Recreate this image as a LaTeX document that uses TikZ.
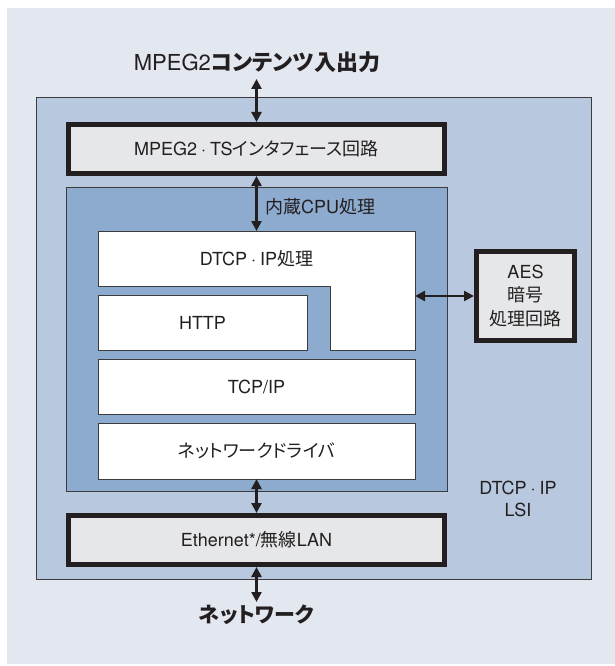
\documentclass[tikz,border=0pt]{standalone}
\usepackage{fontspec}
\setmainfont{TeX Gyre Heros}
\newfontfamily\jp[RawFeature={+palt}]{Noto Sans CJK JP}
\usetikzlibrary{arrows.meta}
\definecolor{bgc}{HTML}{E2E7F0}
\definecolor{lsic}{HTML}{B7C8DF}
\definecolor{cpuc}{HTML}{8DAACF}
\definecolor{boxc}{HTML}{E6E7E9}
\definecolor{ink}{HTML}{231F20}
\definecolor{edgec}{HTML}{3C3C3C}
\newcommand{\mdot}{\hspace{0.22em}·\hspace{0.22em}}
\begin{document}
\begin{tikzpicture}[x=1pt,y=-1pt,
  thinbox/.style={draw=edgec,line width=1pt,fill=white,inner sep=0pt,outer sep=0pt},
  thickbox/.style={draw=ink,line width=5pt,fill=boxc,inner sep=0pt},
  dblarrow/.style={{Triangle[length=10pt,width=10pt]}-{Triangle[length=10pt,width=10pt]},line width=2.4pt,draw=ink},
  lbl/.style={text=ink,font=\fontsize{18}{23.5}\selectfont,inner sep=0pt,align=center}]
\useasboundingbox (0,0) rectangle (615,666);
\fill[bgc] (7,8) rectangle (615,664);
% LSI and CPU regions
\node[draw=edgec,line width=1pt,fill=lsic,minimum width=555pt,minimum height=481pt,inner sep=0pt] (lsi) at (313.5,338.5) {};
\node[draw=edgec,line width=1pt,fill=cpuc,minimum width=381pt,minimum height=304pt,inner sep=0pt] (cpu) at (256.5,339) {};
% MPEG2-TS interface
\node[thickbox,minimum width=376pt,minimum height=49pt,lbl] (mpeg) at (256.5,149) {MPEG2\mdot TS{\jp インタフェース回路}};
% DTCP-IP L-shape
\path[draw=edgec,line width=1pt,fill=white] (98,231) -- (415,231) -- (415,350) -- (330,350) -- (330,286) -- (98,286) -- cycle;
\node[lbl] (dtcp) at (256.5,258.5) {DTCP\mdot IP{\jp 処理}};
\coordinate (dtcptop) at (256.5,231);
\coordinate (dtcpright) at (415,296);
% inner boxes
\node[thinbox,minimum width=209pt,minimum height=55pt,lbl] (http) at (202.5,322.5) {HTTP};
\node[thinbox,minimum width=317pt,minimum height=55pt,lbl] (tcp) at (256.5,386.5) {TCP/IP};
\node[thinbox,minimum width=317pt,minimum height=56pt,lbl] (net) at (256.5,451) {\jp ネットワークドライバ};
% Ethernet
\node[thickbox,minimum width=376pt,minimum height=49pt,lbl] (eth) at (256.5,540) {Ethernet*/{\jp 無線}LAN};
% AES
\node[thickbox,minimum width=98pt,minimum height=89pt,lbl] (aes) at (525.5,296) {AES\\{\jp 暗号}\\{\jp 処理回路}};
% labels
\node[lbl,anchor=west] (cpulbl) at (265,207) {{\jp 内蔵}CPU{\jp 処理}};
\node[lbl,font=\fontsize{18}{22}\selectfont] (lsilbl) at (518,499) {DTCP\mdot IP\\LSI};
\node[lbl,font=\fontsize{22}{26}\selectfont] (title) at (257,62) {MPEG2{\jp\bfseries コンテンツ入出力}};
\node[lbl,font=\fontsize{21}{26}\selectfont] (nw) at (256.5,615) {\jp\bfseries ネットワーク};
\coordinate (titleport) at (256.5,79);
\coordinate (nwport) at (256.5,602);
% connectors
\draw[dblarrow] (titleport) -- (mpeg.north);
\draw[dblarrow] (mpeg.south) -- (dtcptop);
\draw[dblarrow] (dtcpright) -- (aes.west);
\draw[dblarrow] (net.south) -- (eth.north);
\draw[dblarrow] (eth.south) -- (nwport);
\end{tikzpicture}
\end{document}
